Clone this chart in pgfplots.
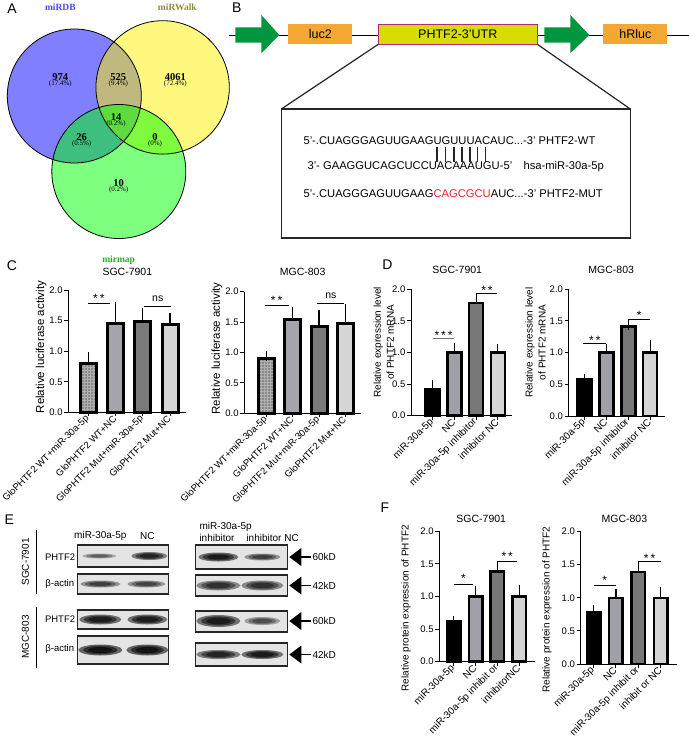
\documentclass[border=0pt]{standalone}
\usepackage{pgfplots}
\pgfplotsset{compat=1.18}
\usetikzlibrary{patterns}
\usepackage{fontspec}
\setmainfont{Liberation Sans}
\newfontfamily\serif{Liberation Serif}
\newcommand\fz[1]{\fontsize{#1}{#1}\selectfont}

\definecolor{cA}{HTML}{8A8A8A}
\definecolor{cAg}{HTML}{B0B0B0}
\definecolor{cB}{HTML}{A4A4AA}
\definecolor{cC}{HTML}{7A7A7A}
\definecolor{cD}{HTML}{D6D6D6}
\definecolor{dA}{HTML}{000000}
\definecolor{dB}{HTML}{A0A0A8}
\definecolor{dC}{HTML}{787878}
\definecolor{dD}{HTML}{D4D4D4}
\definecolor{vblue}{HTML}{4848F0}
\definecolor{volive}{HTML}{8C8C3C}
\definecolor{vgreen}{HTML}{33A833}
\definecolor{arrowgreen}{HTML}{00963F}
\definecolor{boxorange}{HTML}{F5A733}
\definecolor{utrfill}{HTML}{D9DC00}
\definecolor{utrdraw}{HTML}{B02878}
\definecolor{seqred}{HTML}{E3262B}
\definecolor{blotbg}{HTML}{E4E4E4}

\pgfplotsset{
 gp/.style={scale only axis, anchor=south west, clip=false,
  axis x line*=bottom, axis y line*=left,
  axis line style={line width=1pt, black},
  tick align=outside, major tick length=4pt,
  tick style={line width=1pt, black},
  ymin=0, ymax=2, ytick={0,0.5,1,1.5,2}, xtick={0,1,2,3},
  yticklabel style={font=\fz{9.5}, inner sep=1.5pt, /pgf/number format/.cd, fixed, fixed zerofill, precision=1, assume math mode=true},
  xticklabel style={rotate=45, anchor=east, inner sep=1pt},
  ylabel style={anchor=center},
  title style={anchor=center, font=\fz{10.5}},
 },
 gbar/.style n args={3}{ybar, bar shift=0pt, bar width=#1, fill=#2, draw=black, line width=#3,
  error bars/y dir=plus, error bars/y explicit, error bars/error bar style={line width=1.1pt, black},
  error bars/error mark options={mark size=5pt, line width=1.1pt, black}},
}
\tikzset{
 stars/.style={font=\fz{12}, anchor=base, yshift=-6.9pt, inner sep=0pt},
 nstxt/.style={font=\fz{10.5}, anchor=base, yshift=-2.7pt, inner sep=0pt},
 plab/.style={font=\fz{14}, inner sep=0pt},
 sig/.style={line width=0.9pt, black},
}
\newcommand\band[5]{\foreach \s in {1,0.78,0.55}{\fill[black, fill opacity=#5] (#1,#2) ellipse[x radius=\s*#3pt, y radius=\s*#4pt];}}
\newcommand\blot[4]{\fill[blotbg] (#1,#2) rectangle (#3,#4);}
\newcommand\blotframe[4]{\draw[line width=1.1pt, black!85] (#1,#2) rectangle (#3,#4);}
\newcommand\kd[2]{\fill (285,#1) -- (297,#1-9) -- (297,#1+9) -- cycle; \draw[line width=1.3pt] (296,#1) -- (307,#1); \node[anchor=west, inner sep=1pt, font=\fz{10}] at (307,#1) {#2};}

\begin{document}
\begin{tikzpicture}
\begin{scope}[x=1pt,y=-1pt]
\path[use as bounding box] (0,0) rectangle (685,745);

% ---------- Panel A: Venn ----------
\node[plab] at (7.7,8.3) {A};
\fill[blue, fill opacity=0.5] (70,96) circle[radius=67pt];
\fill[yellow, fill opacity=0.5] (158.3,87.4) circle[radius=66.7pt];
\fill[green, fill opacity=0.5] (114.5,171.5) circle[radius=67pt];
\draw[line width=0.8pt] (70,96) circle[radius=67pt];
\draw[line width=0.8pt] (158.3,87.4) circle[radius=66.7pt];
\draw[line width=0.8pt] (114.5,171.5) circle[radius=67pt];
\node[font=\serif\bfseries\fz{9.5}, text=vblue] at (56,7.5) {miRDB};
\node[font=\serif\bfseries\fz{9.5}, text=volive] at (173,7.5) {miRWalk};
\node[font=\serif\bfseries\fz{9.5}, text=vgreen] at (114.3,260) {mirmap};
\begin{scope}[every node/.style={inner sep=0pt}]
\node[font=\serif\bfseries\fz{10.5}] at (56,77) {974};
\node[font=\serif\fz{7}] at (56,84.3) {(17.4\%)};
\node[font=\serif\bfseries\fz{10.5}] at (114,77) {525};
\node[font=\serif\fz{7}] at (114,84.3) {(9.4\%)};
\node[font=\serif\bfseries\fz{10.5}] at (171,77) {4061};
\node[font=\serif\fz{7}] at (171,84.3) {(72.4\%)};
\node[font=\serif\bfseries\fz{10.5}] at (111.7,116.7) {14};
\node[font=\serif\fz{7}] at (111.7,124) {(0.2\%)};
\node[font=\serif\bfseries\fz{10.5}] at (77.3,136.7) {26};
\node[font=\serif\fz{7}] at (77.3,144) {(0.5\%)};
\node[font=\serif\bfseries\fz{10.5}] at (150.7,136.7) {0};
\node[font=\serif\fz{7}] at (150.7,144) {(0\%)};
\node[font=\serif\bfseries\fz{10.5}] at (114.3,182.7) {10};
\node[font=\serif\fz{7}] at (114.3,190) {(0.2\%)};
\end{scope}

% ---------- Panel B: construct ----------
\node[plab] at (232.5,7.2) {B};
\draw[line width=0.8pt] (225,35) -- (685,35);
\fill[arrowgreen] (231,27.3) -- (257,27.3) -- (257,15) -- (275,35) -- (257,53.3) -- (257,42.7) -- (231,42.7) -- cycle;
\fill[arrowgreen] (540,27.3) -- (566,27.3) -- (566,15) -- (585,35) -- (566,53.3) -- (566,42.7) -- (540,42.7) -- cycle;
\fill[boxorange] (284,24) rectangle (348,44.3);
\node[font=\fz{12.5}] at (316,34.2) {luc2};
\filldraw[fill=utrfill, draw=utrdraw, line width=1pt] (374,24) rectangle (533,44.3);
\node[font=\fz{12.5}] at (453.5,34.2) {PHTF2-3'UTR};
\fill[boxorange] (599,24) rectangle (663,44.3);
\node[font=\fz{12.5}] at (631,34.2) {hRluc};
\draw[line width=1.2pt, black!85] (374,44.3) -- (277,109);
\draw[line width=1.2pt, black!85] (533,44.3) -- (626,109);
\draw[line width=1.3pt, black!85] (277,109) rectangle (626,238);
\begin{scope}[every node/.style={anchor=base west, inner sep=0pt, font=\fz{11.2}}]
\node at (299,144) {5'-.CUAGGGAGUUGAAGUGUUUACAUC...-3' PHTF2-WT};
\node at (303,169.7) {3'- GAAGGUCAGCUCCUACAAAUGU-5'};
\node at (519,169.7) {hsa-miR-30a-5p};
\node at (299,197.3) {5'-.CUAGGGAGUUGAAG\textcolor{seqred}{CAGCGCU}AUC...-3' PHTF2-MUT};
\end{scope}
\foreach \xx in {432.8,441.2,449.6,457.7,465.8,473.5,481.4}{\draw[line width=1.3pt, black!85] (\xx,147) -- (\xx,162);}

% ---------- Panel letters ----------
\node[plab] at (7.7,265.3) {C};
\node[plab] at (383,265) {D};
\node[plab] at (5,520) {E};
\node[plab] at (380.5,508) {F};

% ---------- Panel E: blots ----------
\node[font=\fz{10}] at (96,536) {miR-30a-5p};
\node[font=\fz{10}] at (143,536) {NC};
\node[font=\fz{10}, anchor=west, inner sep=0pt] at (195,527) {miR-30a-5p};
\node[font=\fz{10}, anchor=west, inner sep=0pt] at (195,537.5) {inhibitor};
\node[font=\fz{10}, anchor=west, inner sep=0pt] at (242,537.5) {inhibitor NC};
\node[font=\fz{10}, rotate=90] at (21,562) {SGC-7901};
\draw[line width=1pt] (31.7,530) -- (31.7,594);
\node[font=\fz{10}, rotate=90] at (21,637) {MGC-803};
\draw[line width=1pt] (31.7,607) -- (31.7,668);
\begin{scope}[every node/.style={anchor=east, inner sep=0pt, font=\fz{9.5}}]
\node at (71,557) {PHTF2};
\node at (70,584) {β-actin};
\node at (71,619) {PHTF2};
\node at (70,649) {β-actin};
\end{scope}
% left blots
\blot{73}{545}{164}{567} \band{95}{556}{17}{2.5}{0.25} \band{145}{556}{18}{4}{0.45} \blotframe{73}{545}{164}{567}
\blot{73}{574}{164}{594} \band{96}{584}{20}{3.5}{0.35} \band{142}{584}{19}{3.5}{0.33} \blotframe{73}{574}{164}{594}
\blot{73}{610}{164}{629} \band{96}{619.5}{21}{5}{0.5} \band{143}{619.5}{20}{5}{0.5} \blotframe{73}{610}{164}{629}
\blot{73}{636}{164}{664} \band{96}{650}{22}{5.5}{0.55} \band{143}{650}{21}{5.5}{0.55} \blotframe{73}{636}{164}{664}
% right blots
\blot{191}{545}{283}{569} \band{214}{557}{20}{4.5}{0.5} \band{258}{557}{18}{3.5}{0.35} \blotframe{191}{545}{283}{569}
\blot{191}{575}{283}{596} \band{214}{585.5}{22}{5}{0.4} \band{258}{585.5}{21}{5}{0.4} \blotframe{191}{575}{283}{596}
\blot{191}{611}{283}{632} \band{214}{621}{22}{6}{0.5} \band{258}{621}{18}{4}{0.3} \blotframe{191}{611}{283}{632}
\blot{191}{643}{283}{666} \band{214}{654.5}{22}{4.5}{0.45} \band{258}{654.5}{21}{4.5}{0.5} \blotframe{191}{643}{283}{666}
\kd{557}{60kD}
\kd{585.5}{42kD}
\kd{621}{60kD}
\kd{654.5}{42kD}
\end{scope}

% ---------- Panel C left ----------
\begin{axis}[gp, at={(64pt,-412.3pt)}, width=118pt, height=122.3pt, xmin=-0.74, xmax=3.6,
 xticklabels={GloPHTF2 WT+miR-30a-5p, GloPHTF2 WT+NC, GloPHTF2 Mut+miR-30a-5p, GloPHTF2 Mut+NC},
 xticklabel style={font=\fz{9.5}},
 ylabel={Relative luciferase activity}, ylabel style={font=\fz{11.5}, at={(axis description cs:-0.23,0.533)}},
 title={SGC-7901}, title style={at={(axis description cs:0.5,1.10)}}]
\addplot[gbar={16pt}{cA}{3pt}, preaction={fill=cA}, pattern=grid, pattern color=cAg] coordinates {(0,0.79) +- (0,0.12)};
\addplot[gbar={16pt}{cB}{3pt}] coordinates {(1,1.46) +- (0,0.26)};
\addplot[gbar={16pt}{cC}{3pt}] coordinates {(2,1.49) +- (0,0.14)};
\addplot[gbar={16pt}{cD}{3pt}] coordinates {(3,1.43) +- (0,0.11)};
\draw[sig] (axis cs:-0.03,1.78) -- (axis cs:0.8,1.78);
\node[stars] at (axis cs:0.38,1.91) {*\,*};
\draw[sig] (axis cs:2.05,1.73) -- (axis cs:3.02,1.73);
\node[nstxt] at (axis cs:2.55,1.86) {ns};
\end{axis}

% ---------- Panel C right ----------
\begin{axis}[gp, at={(240pt,-413.3pt)}, width=116.6pt, height=121.6pt, xmin=-0.85, xmax=3.6,
 xticklabels={GloPHTF2 WT+miR-30a-5p, GloPHTF2 WT+NC, GloPHTF2 Mut+miR-30a-5p, GloPHTF2 Mut+NC},
 xticklabel style={font=\fz{9.5}},
 ylabel={Relative luciferase activity}, ylabel style={font=\fz{11.5}, at={(axis description cs:-0.235,0.533)}},
 title={MGC-803}, title style={at={(axis description cs:0.5,1.11)}}]
\addplot[gbar={16pt}{cA}{3pt}, preaction={fill=cA}, pattern=grid, pattern color=cAg] coordinates {(0,0.90) +- (0,0.04)};
\addplot[gbar={16pt}{cB}{3pt}] coordinates {(1,1.54) +- (0,0.13)};
\addplot[gbar={16pt}{cC}{3pt}] coordinates {(2,1.43) +- (0,0.18)};
\addplot[gbar={16pt}{cD}{3pt}] coordinates {(3,1.48) +- (0,0.24)};
\draw[sig] (axis cs:-0.08,1.78) -- (axis cs:0.87,1.78);
\node[stars] at (axis cs:0.38,1.90) {*\,*};
\draw[sig] (axis cs:1.92,1.80) -- (axis cs:2.97,1.80);
\node[nstxt] at (axis cs:2.45,1.93) {ns};
\end{axis}

% ---------- Panel D left ----------
\begin{axis}[gp, at={(406.7pt,-415.7pt)}, width=101.3pt, height=126.4pt, xmin=-1.0, xmax=3.67,
 xticklabels={miR-30a-5p, NC, miR-30a-5p inhibitor, inhibitor NC},
 xticklabel style={font=\fz{10}},
 ylabel={Relative expression level\\of PHTF2 mRNA}, ylabel style={font=\fontsize{10}{13}\selectfont, align=center, at={(axis description cs:-0.27,0.58)}},
 title={SGC-7901}, title style={at={(axis description cs:0.456,1.108)}}]
\addplot[gbar={14pt}{dA}{2.5pt}] coordinates {(0,0.42) +- (0,0.06)};
\addplot[gbar={14pt}{dB}{2.5pt}] coordinates {(1,1.00) +- (0,0.07)};
\addplot[gbar={14pt}{dC}{2.5pt}] coordinates {(2,1.78) +- (0,0.09)};
\addplot[gbar={14pt}{dD}{2.5pt}] coordinates {(3,1.00) +- (0,0.05)};
\draw[line width=0.9pt, black!55] (axis cs:0,1.22) -- (axis cs:1,1.22);
\node[stars] at (axis cs:0.5,1.32) {*\,*\,*};
\draw[sig] (axis cs:2.05,1.94) -- (axis cs:2.95,1.94);
\node[stars] at (axis cs:2.5,2.03) {*\,*};
\end{axis}

% ---------- Panel D right ----------
\begin{axis}[gp, at={(564.3pt,-416pt)}, width=95.9pt, height=126.7pt, xmin=-0.73, xmax=3.66,
 xticklabels={miR-30a-5p, NC, miR-30a-5p inhibitor, inhibitor NC},
 xticklabel style={font=\fz{10}},
 ylabel={Relative expression level\\of PHTF2 mRNA}, ylabel style={font=\fontsize{10}{13}\selectfont, align=center, at={(axis description cs:-0.345,0.58)}},
 title={MGC-803}, title style={at={(axis description cs:0.444,1.107)}}]
\addplot[gbar={14pt}{dA}{2.5pt}] coordinates {(0,0.58) +- (0,0.01)};
\addplot[gbar={14pt}{dB}{2.5pt}] coordinates {(1,1.00) +- (0,0.05)};
\addplot[gbar={14pt}{dC}{2.5pt}] coordinates {(2,1.41) +- (0,0.03)};
\addplot[gbar={14pt}{dD}{2.5pt}] coordinates {(3,1.00) +- (0,0.12)};
\draw[sig] (axis cs:-0.07,1.15) -- (axis cs:1.0,1.15);
\node[stars] at (axis cs:0.47,1.24) {*\,*};
\draw[sig] (axis cs:2,1.53) -- (axis cs:3,1.53);
\node[stars] at (axis cs:2.5,1.64) {*};
\end{axis}

% ---------- Panel F left ----------
\begin{axis}[gp, at={(435pt,-661.7pt)}, width=95.2pt, height=130.5pt, xmin=-0.66, xmax=3.7,
 xticklabels={miR-30a-5p, NC, miR-30a-5p inhibit or, inhibitorNC},
 xticklabel style={font=\fz{10}},
 ylabel={Relative protein expression of PHTF2}, ylabel style={font=\fz{10}, at={(axis description cs:-0.349,0.41)}},
 title={SGC-7901}, title style={at={(axis description cs:0.44,1.051)}}]
\addplot[gbar={13.5pt}{dA}{2.5pt}] coordinates {(0,0.62) +- (0,0.005)};
\addplot[gbar={13.5pt}{dB}{2.5pt}] coordinates {(1,1.00) +- (0,0.09)};
\addplot[gbar={13.5pt}{dC}{2.5pt}] coordinates {(2,1.38) +- (0,0.08)};
\addplot[gbar={13.5pt}{dD}{2.5pt}] coordinates {(3,1.00) +- (0,0.10)};
\draw[sig] (axis cs:0,1.19) -- (axis cs:0.9,1.19);
\node[stars] at (axis cs:0.45,1.32) {*};
\draw[sig] (axis cs:2.0,1.54) -- (axis cs:2.9,1.54);
\node[stars] at (axis cs:2.45,1.65) {*\,*};
\end{axis}

% ---------- Panel F right ----------
\begin{axis}[gp, at={(576.3pt,-664pt)}, width=96.4pt, height=132.5pt, xmin=-0.575, xmax=3.72,
 xticklabels={miR-30a-5p, NC, miR-30a-5p inhibit or, inhibit or NC},
 xticklabel style={font=\fz{10}},
 ylabel={Relative protein expression of PHTF2}, ylabel style={font=\fz{10}, at={(axis description cs:-0.349,0.41)}},
 title={MGC-803}, title style={at={(axis description cs:0.454,1.05)}}]
\addplot[gbar={13.5pt}{dA}{2.5pt}] coordinates {(0,0.78) +- (0,0.03)};
\addplot[gbar={13.5pt}{dB}{2.5pt}] coordinates {(1,1.00) +- (0,0.06)};
\addplot[gbar={13.5pt}{dC}{2.5pt}] coordinates {(2,1.39) +- (0,0.08)};
\addplot[gbar={13.5pt}{dD}{2.5pt}] coordinates {(3,1.00) +- (0,0.08)};
\draw[sig] (axis cs:0,1.18) -- (axis cs:1.0,1.18);
\node[stars] at (axis cs:0.5,1.30) {*};
\draw[sig] (axis cs:2,1.55) -- (axis cs:3,1.55);
\node[stars] at (axis cs:2.5,1.64) {*\,*};
\end{axis}
\end{tikzpicture}
\end{document}
